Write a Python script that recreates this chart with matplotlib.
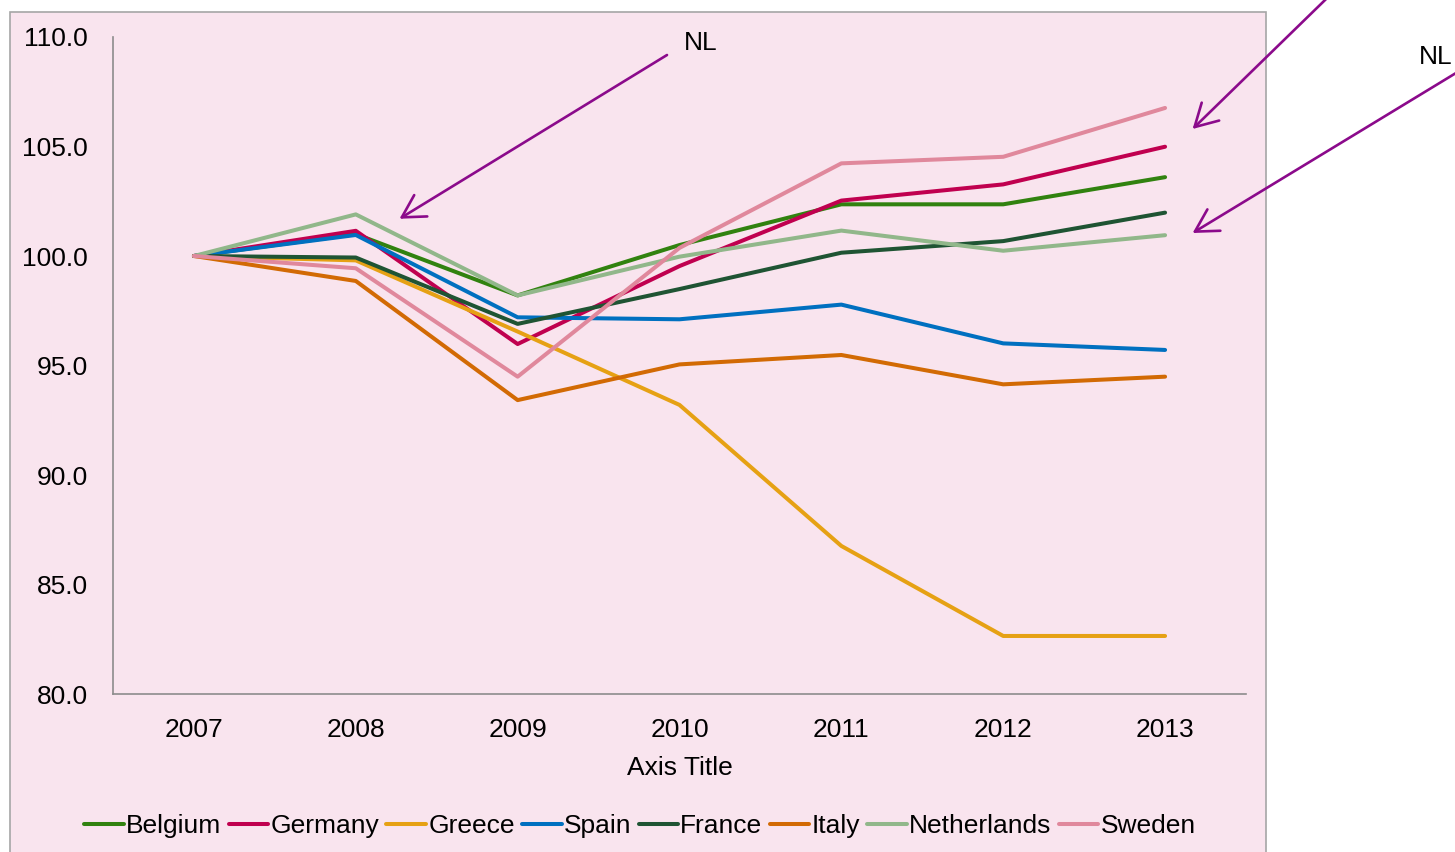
import matplotlib
matplotlib.use("Agg")
import matplotlib.pyplot as plt
from matplotlib.patches import Rectangle

plt.rcParams['font.family'] = ['Liberation Sans', 'DejaVu Sans']

years = ["2007", "2008", "2009", "2010", "2011", "2012", "2013"]
belgium = [100.0, 101.0, 98.2, 100.5, 102.36, 102.36, 103.6]
germany = [100.0, 101.15, 95.98, 99.54, 102.53, 103.27, 104.99]
greece = [100.0, 99.8, 96.55, 93.2, 86.76, 82.65, 82.65]
spain = [100.0, 100.96, 97.2, 97.11, 97.78, 96.01, 95.71]
france = [100.0, 99.93, 96.9, 98.49, 100.15, 100.68, 101.98]
italy = [100.0, 98.86, 93.42, 95.05, 95.48, 94.14, 94.49]
netherlands = [100.0, 101.9, 98.2, 99.97, 101.16, 100.24, 100.95]
sweden = [100.0, 99.44, 94.49, 100.37, 104.23, 104.53, 106.76]

series = [
    ("Belgium", belgium, "#31820f"),
    ("Germany", germany, "#c0004f"),
    ("Greece", greece, "#e6a114"),
    ("Spain", spain, "#0070c0"),
    ("France", france, "#1f5433"),
    ("Italy", italy, "#d26a04"),
    ("Netherlands", netherlands, "#91b78a"),
    ("Sweden", sweden, "#e0889c"),
]

W, H = 1455, 852
fig = plt.figure(figsize=(W / 100, H / 100), dpi=100)
fig.patch.set_facecolor("white")

# pink chart area, bottom edge runs off the image
fig.patches.append(Rectangle((10 / W, -0.05), (1266 - 10) / W, (H - 12) / H + 0.05,
                             transform=fig.transFigure, facecolor="#f9e4ee",
                             edgecolor="#a6a6a6", linewidth=1.2, zorder=-10))

ax = fig.add_axes([113 / W, 1 - 694 / H, (1246 - 113) / W, (694 - 37) / H])
ax.set_facecolor("none")

x = list(range(len(years)))
for name, vals, col in series:
    ax.plot(x, vals, color=col, lw=2.9, label=name, solid_capstyle="round")

ax.set_xlim(-0.5, 6.5)
ax.set_ylim(80, 110)
ax.set_yticks([80, 85, 90, 95, 100, 105, 110])
ax.set_yticklabels([f"{v:.1f}" for v in [80, 85, 90, 95, 100, 105, 110]])
ax.set_xticks(x)
ax.set_xticklabels(years)
ax.tick_params(length=0, labelsize=19)
ax.tick_params(axis="y", pad=18)
ax.tick_params(axis="x", pad=17.5)
for s in ["top", "right"]:
    ax.spines[s].set_visible(False)
for s in ["left", "bottom"]:
    ax.spines[s].set_color("#8c8c8c")
    ax.spines[s].set_linewidth(1.2)
ax.set_xlabel("Axis Title", fontsize=19, labelpad=10)

fig.legend(loc="center", bbox_to_anchor=(640 / W, 1 - 826 / H), ncol=8,
           frameon=False, fontsize=19, handlelength=1.5, handletextpad=0.08,
           columnspacing=0.28)

# NL arrows
arrow_col = "#8b0a8b"
aprops = dict(arrowstyle="->,head_length=0.8,head_width=0.45", color=arrow_col,
              lw=1.9, mutation_scale=20, shrinkA=0, shrinkB=0)
ax.annotate("", xy=(1.27, 101.7), xytext=(667, H - 55), textcoords="figure pixels",
            arrowprops=aprops, annotation_clip=False)
ax.annotate("", xy=(6.17, 105.8), xytext=(1360, H + 34), textcoords="figure pixels",
            arrowprops=aprops, annotation_clip=False)
ax.annotate("", xy=(6.17, 101.05), xytext=(1456, H - 73), textcoords="figure pixels",
            arrowprops=aprops, annotation_clip=False)
fig.text(684 / W, 1 - 43 / H, "NL", fontsize=19, va="center", ha="left")
fig.text(1419 / W, 1 - 57 / H, "NL", fontsize=19, va="center", ha="left")

fig.savefig("out.png", dpi=100, facecolor=fig.get_facecolor())
